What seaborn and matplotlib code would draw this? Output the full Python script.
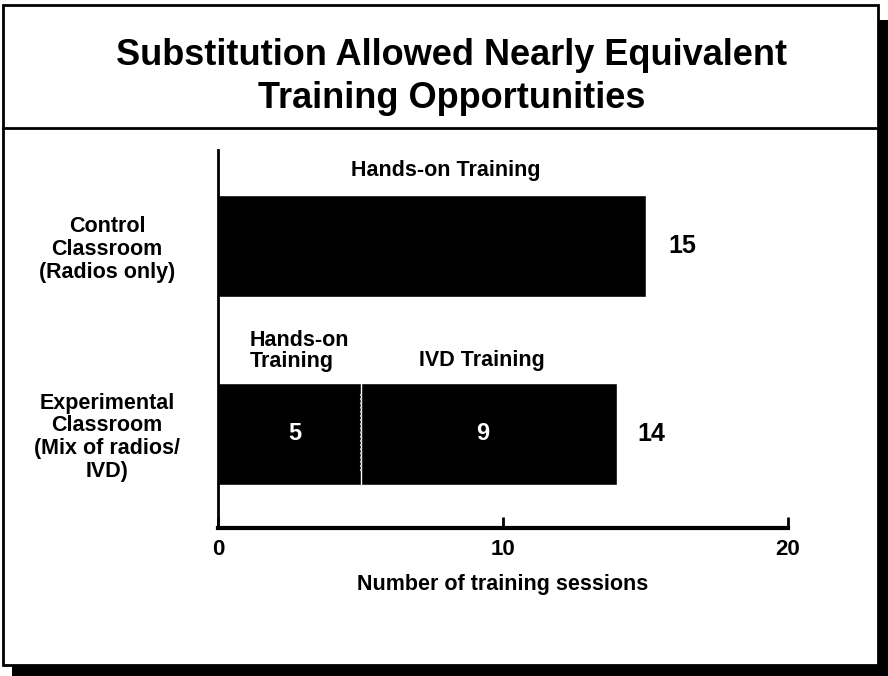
import matplotlib
matplotlib.use("Agg")
import matplotlib.pyplot as plt
import seaborn as sns
import pandas as pd
from matplotlib.patches import Rectangle
from matplotlib.lines import Line2D

# ---- data ----
groups = ["Control\nClassroom\n(Radios only)",
          "Experimental\nClassroom\n(Mix of radios/\nIVD)"]
hands_on = [15, 5]
ivd = [0, 9]
totals = [h + v for h, v in zip(hands_on, ivd)]
xticks = [0, 10, 20]
title = "Substitution Allowed Nearly Equivalent\nTraining Opportunities"
xlabel = "Number of training sessions"

sns.set_theme(style="white")
plt.rcParams["font.family"] = ["Liberation Sans", "DejaVu Sans"]
plt.rcParams["font.weight"] = "bold"
plt.rcParams["text.color"] = "black"
plt.rcParams["axes.labelcolor"] = "black"
plt.rcParams["xtick.color"] = "black"
plt.rcParams["ytick.color"] = "black"

W, H = 888, 676
fig = plt.figure(figsize=(W / 100, H / 100), dpi=100)

def fx(x):
    return x / W

def fy(y):
    return 1 - y / H

# drop shadow + frame
fig.patches.append(Rectangle((fx(12), fy(676)), fx(888) - fx(12), fy(20) - fy(676),
                             transform=fig.transFigure, facecolor="black",
                             edgecolor="none", zorder=-3))
fig.patches.append(Rectangle((fx(3), fy(665)), fx(878) - fx(3), fy(5) - fy(665),
                             transform=fig.transFigure, facecolor="white",
                             edgecolor="black", linewidth=2, zorder=-2))
fig.lines.append(Line2D([fx(3), fx(878)], [fy(128), fy(128)],
                        transform=fig.transFigure, color="black", linewidth=2,
                        zorder=-1))

fig.text(fx(452), fy(77), title, ha="center", va="center", fontsize=26,
         fontweight="bold", linespacing=1.28, color="black")

ax = fig.add_axes([fx(218), fy(528), fx(788) - fx(218), fy(150) - fy(528)])
ax.set_facecolor("none")

df_total = pd.DataFrame({"group": groups, "value": totals})
df_hands = pd.DataFrame({"group": groups, "value": hands_on})
sns.barplot(data=df_total, x="value", y="group", orient="h", color="black",
            width=0.54, saturation=1, ax=ax)
sns.barplot(data=df_hands, x="value", y="group", orient="h", color="black",
            width=0.54, saturation=1, ax=ax)

# separator between hands-on and IVD segments
ax.vlines(hands_on[1], 1 - 0.21, 1 + 0.21, colors="#c8c8c8",
          linestyles=(0, (1, 1)), linewidth=1.5, zorder=5)

ax.set_xlim(0, 20)
ax.set_ylim(1.5, -0.51)
ax.set_xticks(xticks)
ax.set_xticklabels([str(t) for t in xticks], fontsize=16, fontweight="bold")
ax.tick_params(axis="x", direction="in", length=8, width=2, pad=8,
               bottom=True, colors="black")
ax.tick_params(axis="y", length=0, pad=80)
for lab in ax.get_yticklabels():
    lab.set_ha("center")
    lab.set_multialignment("center")
    lab.set_fontsize(15.5)
    lab.set_fontweight("bold")
    lab.set_linespacing(1.12)
ax.set_ylabel("")
ax.set_xlabel(xlabel, fontsize=15.5, fontweight="bold", labelpad=10)

for side in ["top", "right"]:
    ax.spines[side].set_visible(False)
ax.spines["bottom"].set_linewidth(3)
ax.spines["left"].set_linewidth(2)
ax.spines["bottom"].set_color("black")
ax.spines["left"].set_color("black")

# value labels
ax.text(totals[0] + 1.3, 0, str(totals[0]), ha="center", va="center",
        fontsize=18, fontweight="bold")
ax.text(totals[1] + 1.2, 1, str(totals[1]), ha="center", va="center",
        fontsize=18, fontweight="bold")
ax.text(hands_on[1] / 2 + 0.2, 1, str(hands_on[1]), ha="center", va="center",
        fontsize=17, fontweight="bold", color="white")
ax.text(hands_on[1] + ivd[1] / 2 - 0.2, 1, str(ivd[1]), ha="center", va="center",
        fontsize=17, fontweight="bold", color="white")

# segment labels
ax.text(8.0, -0.40, "Hands-on Training", ha="center", va="center",
        fontsize=15.5, fontweight="bold")
ax.text(1.12, 0.56, "Hands-on\nTraining", ha="left", va="center",
        fontsize=15.5, fontweight="bold", linespacing=1.0)
ax.text(9.25, 0.61, "IVD Training", ha="center", va="center",
        fontsize=15.5, fontweight="bold")

fig.savefig("out.png", dpi=100)
